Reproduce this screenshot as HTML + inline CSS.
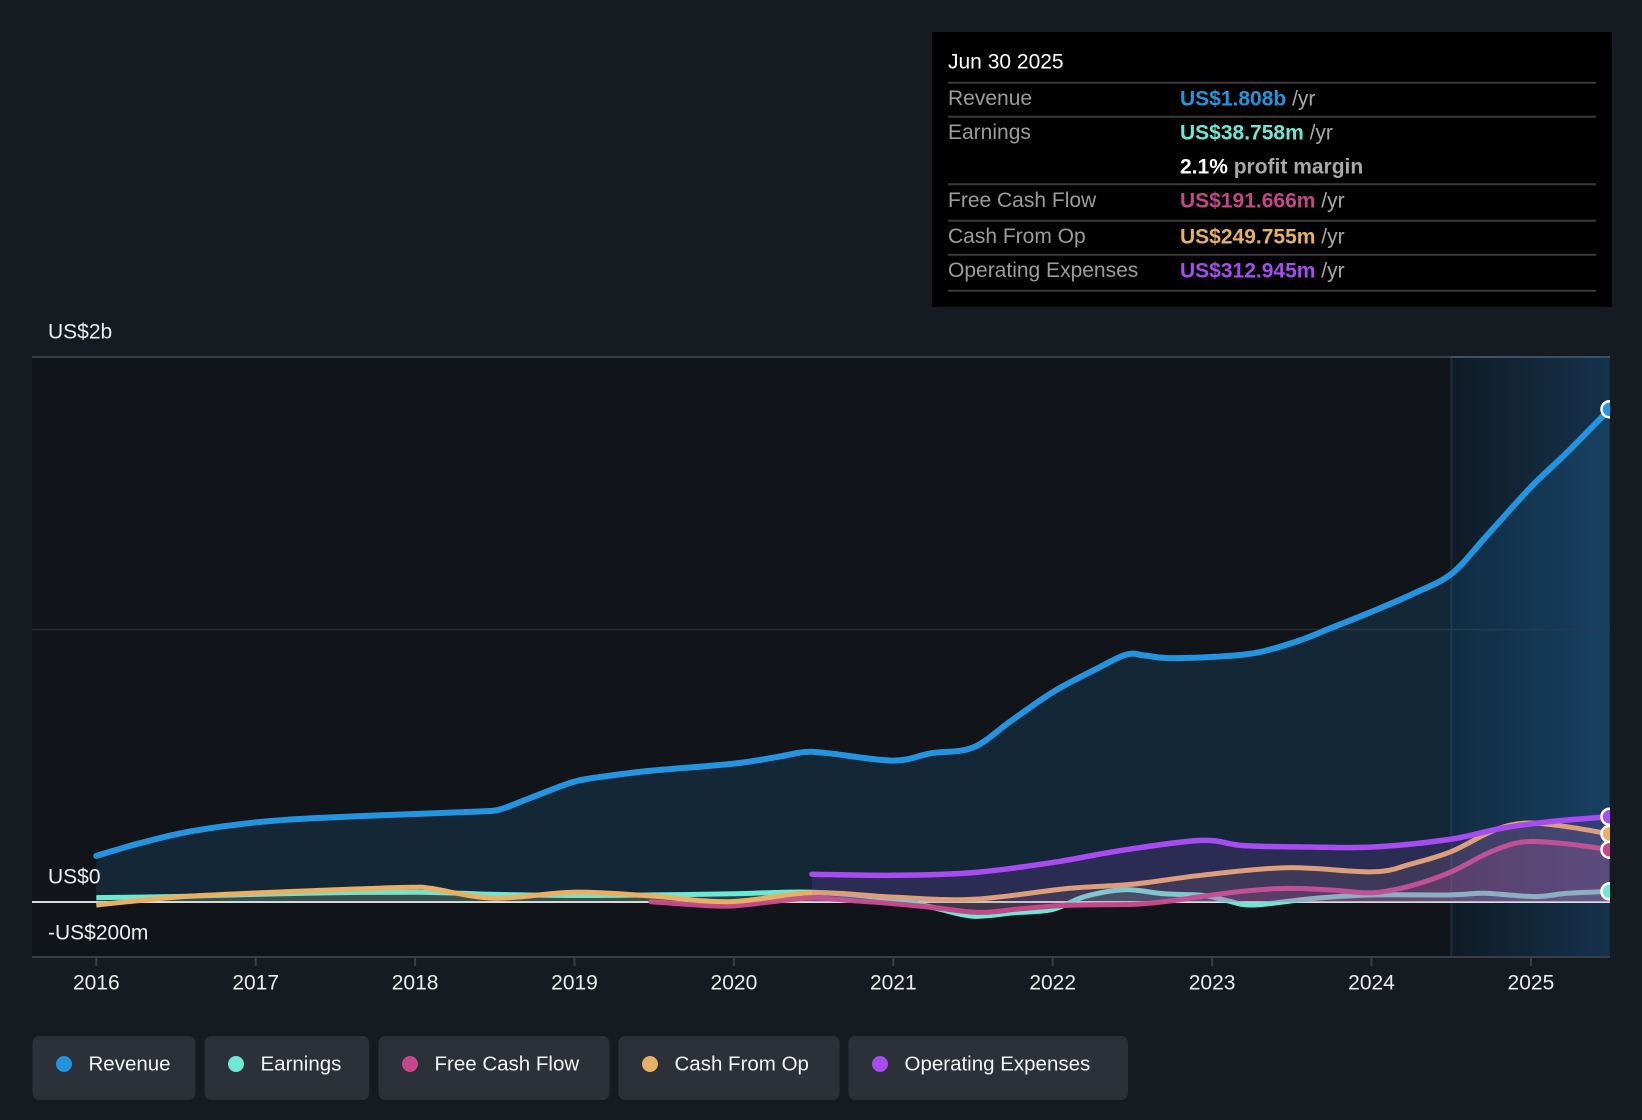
<!DOCTYPE html>
<html>
<head>
<meta charset="utf-8">
<style>
  html,body{margin:0;padding:0;background:#161b22;}
  body{width:1642px;height:1120px;overflow:hidden;}
  svg{display:block;}
  text{font-family:"Liberation Sans",Arial,sans-serif;}
</style>
</head>
<body>
<svg id="chart" width="1642" height="1120" viewBox="0 0 1642 1120" xmlns="http://www.w3.org/2000/svg">
  <defs>
    <linearGradient id="fc" x1="0" y1="0" x2="1" y2="0">
      <stop offset="0" stop-color="#0f1b26"/>
      <stop offset="1" stop-color="#15324c"/>
    </linearGradient>
    <clipPath id="plot">
      <rect x="32" y="340" width="1578" height="620"/>
    </clipPath>
  </defs>

  <rect x="0" y="0" width="1642" height="1120" fill="#161b22"/>

  <rect x="32" y="357" width="1419.3" height="600" fill="#111419"/>
  <rect x="1451.3" y="357" width="158.5" height="600" fill="url(#fc)"/>
  <line x1="1451.3" y1="357" x2="1451.3" y2="957" stroke="#1b2b3b" stroke-width="2"/>

  <line x1="32" y1="629.5" x2="1610" y2="629.5" stroke="#262b33" stroke-width="1.5"/>
  <line x1="32" y1="357" x2="1451" y2="357" stroke="#3b3f46" stroke-width="2"/>
  <line x1="1451" y1="357" x2="1610" y2="357" stroke="#3d5064" stroke-width="2"/>
  <line x1="32" y1="957" x2="1610" y2="957" stroke="#3a3e45" stroke-width="2"/>

  <g stroke="#3a3e45" stroke-width="2">
    <line x1="96.3" y1="957" x2="96.3" y2="966"/>
    <line x1="255.7" y1="957" x2="255.7" y2="966"/>
    <line x1="415.1" y1="957" x2="415.1" y2="966"/>
    <line x1="574.5" y1="957" x2="574.5" y2="966"/>
    <line x1="733.9" y1="957" x2="733.9" y2="966"/>
    <line x1="893.3" y1="957" x2="893.3" y2="966"/>
    <line x1="1052.7" y1="957" x2="1052.7" y2="966"/>
    <line x1="1212.1" y1="957" x2="1212.1" y2="966"/>
    <line x1="1371.5" y1="957" x2="1371.5" y2="966"/>
    <line x1="1530.9" y1="957" x2="1530.9" y2="966"/>
  </g>

  <g clip-path="url(#plot)">
    <!-- Revenue -->
    <path id="revF" fill="#2394df" fill-opacity="0.15" d="M96.3,902 L96.3,855.9 136.2,844.2 188.8,831.7 255.7,822.4 314.7,818.1 415.1,814.0 480,811.5 496.4,810.3 510,806 534.6,796.3 574.5,781.6 606.4,776.1 649.4,770.9 733.9,763.6 775.3,757.3 804.0,752.1 827.9,753.2 893.3,760.6 931.5,753.2 973.0,747.5 1011.2,720.8 1052.7,692.2 1094.1,670.1 1126.0,654.6 1145,655.5 1167.4,658.1 1215.3,656.8 1256.7,652.7 1298.2,641.0 1330.1,628.4 1371.5,611.8 1413.0,593.8 1451.3,573.9 1486.3,536.3 1531.0,487.0 1566.0,453.5 1609.5,409.3 L1609.5,902 Z"/>
    <polyline id="revL" fill="none" stroke="#2394df" stroke-width="6" stroke-linejoin="round" stroke-linecap="round" points="96.3,855.9 136.2,844.2 188.8,831.7 255.7,822.4 314.7,818.1 415.1,814.0 480,811.5 496.4,810.3 510,806 534.6,796.3 574.5,781.6 606.4,776.1 649.4,770.9 733.9,763.6 775.3,757.3 804.0,752.1 827.9,753.2 893.3,760.6 931.5,753.2 973.0,747.5 1011.2,720.8 1052.7,692.2 1094.1,670.1 1126.0,654.6 1145,655.5 1167.4,658.1 1215.3,656.8 1256.7,652.7 1298.2,641.0 1330.1,628.4 1371.5,611.8 1413.0,593.8 1451.3,573.9 1486.3,536.3 1531.0,487.0 1566.0,453.5 1609.5,409.3"/>

    <line x1="32" y1="902" x2="1610" y2="902" stroke="#dcdcdc" stroke-width="2"/>

    <!-- Earnings -->
    <path id="earF" fill="#6ee8d5" fill-opacity="0.15" d="M96.3,902 L96.3,897.6 176,896.5 255.7,894.4 335.4,892.7 415.1,892.2 463,893.3 494.8,894.4 574.5,895.5 654.2,894.9 733.9,893.8 813.6,892.2 893.3,899.3 933.1,907.5 973.0,916.2 1012.8,912.9 1052.7,909.4 1084.5,896.6 1124.4,889.7 1164.2,893.8 1204.1,895.5 1228.0,900.9 1253.5,905.0 1310.9,898.7 1371.5,894.9 1451.3,894.9 1484.7,893.3 1534.2,896.6 1567.6,893.3 1609.5,891.4 L1609.5,902 Z"/>
    <polyline id="earL" fill="none" stroke="#6ee8d5" stroke-width="5" stroke-linejoin="round" points="96.3,897.6 176,896.5 255.7,894.4 335.4,892.7 415.1,892.2 463,893.3 494.8,894.4 574.5,895.5 654.2,894.9 733.9,893.8 813.6,892.2 893.3,899.3 933.1,907.5 973.0,916.2 1012.8,912.9 1052.7,909.4 1084.5,896.6 1124.4,889.7 1164.2,893.8 1204.1,895.5 1228.0,900.9 1253.5,905.0 1310.9,898.7 1371.5,894.9 1451.3,894.9 1484.7,893.3 1534.2,896.6 1567.6,893.3 1609.5,891.4"/>

    <!-- Free Cash Flow -->
    <path id="fcfF" fill="#c4478a" fill-opacity="0.2" d="M651,902 L651.0,901.7 690,904.5 729.1,906.1 770,902 812.0,897.9 850,900.5 890.1,903.4 933.1,907.5 979.3,912.4 1020.8,908.8 1068.6,905.3 1135.5,904.2 1170,901 1200.9,896.6 1243.9,891.1 1287.0,888.4 1331.6,890.0 1373.0,892.7 1411.3,885.7 1451.3,871.8 1491.2,851.6 1524.6,841.8 1567.6,844.0 1609.5,849.7 L1609.5,902 Z"/>
    <polyline id="fcfL" fill="none" stroke="#c4478a" stroke-width="5" stroke-linejoin="round" stroke-linecap="round" points="651.0,901.7 690,904.5 729.1,906.1 770,902 812.0,897.9 850,900.5 890.1,903.4 933.1,907.5 979.3,912.4 1020.8,908.8 1068.6,905.3 1135.5,904.2 1170,901 1200.9,896.6 1243.9,891.1 1287.0,888.4 1331.6,890.0 1373.0,892.7 1411.3,885.7 1451.3,871.8 1491.2,851.6 1524.6,841.8 1567.6,844.0 1609.5,849.7"/>

    <!-- Cash From Op -->
    <path id="cfoF" fill="#e8b064" fill-opacity="0.12" d="M96.3,902 L96.3,905.0 176,897.1 255.7,893.0 335.4,889.7 411.9,887.3 431,888.4 494.8,898.2 573.7,892.2 651.0,896.0 729.1,901.7 812.0,892.7 893.3,897.1 973.0,899.3 1068.6,888.4 1132.3,884.3 1200.9,875.3 1287.0,867.7 1373.0,871.8 1411.3,863.9 1451.3,851.6 1494.4,830.1 1527.9,823.0 1567.6,826.8 1609.5,833.9 L1609.5,902 Z"/>
    <polyline id="cfoL" fill="none" stroke="#e8b064" stroke-width="5" stroke-linejoin="round" points="96.3,905.0 176,897.1 255.7,893.0 335.4,889.7 411.9,887.3 431,888.4 494.8,898.2 573.7,892.2 651.0,896.0 729.1,901.7 812.0,892.7 893.3,897.1 973.0,899.3 1068.6,888.4 1132.3,884.3 1200.9,875.3 1287.0,867.7 1373.0,871.8 1411.3,863.9 1451.3,851.6 1494.4,830.1 1527.9,823.0 1567.6,826.8 1609.5,833.9"/>

    <!-- Operating Expenses -->
    <path id="opxF" fill="#a24af0" fill-opacity="0.17" d="M812,902 L812.0,874.2 893.3,875.3 973.0,872.6 1052.7,862.5 1122.8,850.2 1200.9,840.4 1243.9,845.6 1307.7,847.0 1373.0,847.0 1451.3,839.1 1500.7,828.4 1550.1,821.6 1609.5,816.7 L1609.5,902 Z"/>
    <polyline id="opxL" fill="none" stroke="#a64cf0" stroke-width="5.5" stroke-linejoin="round" stroke-linecap="round" points="812.0,874.2 893.3,875.3 973.0,872.6 1052.7,862.5 1122.8,850.2 1200.9,840.4 1243.9,845.6 1307.7,847.0 1373.0,847.0 1451.3,839.1 1500.7,828.4 1550.1,821.6 1609.5,816.7"/>

    <g stroke="#ffffff" stroke-width="2.5">
      <circle cx="1609.5" cy="409.3" r="8" fill="#2394df"/>
      <circle cx="1609.5" cy="891.4" r="8" fill="#6ee8d5"/>
      <circle cx="1609.5" cy="849.7" r="8" fill="#c4478a"/>
      <circle cx="1609.5" cy="833.9" r="8" fill="#e8b064"/>
      <circle cx="1609.5" cy="816.7" r="8" fill="#a64cf0"/>
    </g>
  </g>

  <g fill="#ececec" font-size="21" dominant-baseline="central">
    <text x="48" y="332">US$2b</text>
    <text x="48" y="877">US$0</text>
    <text x="48" y="933">-US$200m</text>
  </g>

  <g fill="#ececec" font-size="21" text-anchor="middle" dominant-baseline="central">
    <text x="96.3" y="983">2016</text>
    <text x="255.7" y="983">2017</text>
    <text x="415.1" y="983">2018</text>
    <text x="574.5" y="983">2019</text>
    <text x="733.9" y="983">2020</text>
    <text x="893.3" y="983">2021</text>
    <text x="1052.7" y="983">2022</text>
    <text x="1212.1" y="983">2023</text>
    <text x="1371.5" y="983">2024</text>
    <text x="1530.9" y="983">2025</text>
  </g>

  <rect x="932" y="32" width="680" height="275" fill="#000000"/>
  <g stroke="#3a3a3a" stroke-width="2">
    <line x1="948" y1="82.7" x2="1596" y2="82.7"/>
    <line x1="948" y1="116.7" x2="1596" y2="116.7"/>
    <line x1="948" y1="184.3" x2="1596" y2="184.3"/>
    <line x1="948" y1="220.7" x2="1596" y2="220.7"/>
    <line x1="948" y1="254.7" x2="1596" y2="254.7"/>
    <line x1="948" y1="290.7" x2="1596" y2="290.7"/>
  </g>
  <g font-size="21" dominant-baseline="central">
    <text x="948" y="62" fill="#ffffff">Jun 30 2025</text>
    <text x="948" y="98.7" fill="#9c9c9c">Revenue</text>
    <text x="948" y="132.7" fill="#9c9c9c">Earnings</text>
    <text x="948" y="200.7" fill="#9c9c9c">Free Cash Flow</text>
    <text x="948" y="236.7" fill="#9c9c9c">Cash From Op</text>
    <text x="948" y="270.7" fill="#9c9c9c">Operating Expenses</text>

    <text x="1180" y="98.7"><tspan fill="#2394df" font-weight="bold">US$1.808b</tspan><tspan fill="#a8a8a8"> /yr</tspan></text>
    <text x="1180" y="132.7"><tspan fill="#6ee8d5" font-weight="bold">US$38.758m</tspan><tspan fill="#a8a8a8"> /yr</tspan></text>
    <text x="1180" y="166.7"><tspan fill="#ffffff" font-weight="bold">2.1%</tspan><tspan fill="#a8a8a8" font-weight="bold"> profit margin</tspan></text>
    <text x="1180" y="200.7"><tspan fill="#c4478a" font-weight="bold">US$191.666m</tspan><tspan fill="#a8a8a8"> /yr</tspan></text>
    <text x="1180" y="236.7"><tspan fill="#e8b064" font-weight="bold">US$249.755m</tspan><tspan fill="#a8a8a8"> /yr</tspan></text>
    <text x="1180" y="270.7"><tspan fill="#a64cf0" font-weight="bold">US$312.945m</tspan><tspan fill="#a8a8a8"> /yr</tspan></text>
  </g>

  <g fill="#2c3039">
    <rect x="32.5" y="1036" width="163.1" height="64" rx="7"/>
    <rect x="204.4" y="1036" width="164.9" height="64" rx="7"/>
    <rect x="378.5" y="1036" width="231" height="64" rx="7"/>
    <rect x="618.4" y="1036" width="221.2" height="64" rx="7"/>
    <rect x="848.4" y="1036" width="279.6" height="64" rx="7"/>
  </g>
  <circle cx="64" cy="1064" r="8" fill="#2394df"/>
  <circle cx="236" cy="1064" r="8" fill="#6ee8d5"/>
  <circle cx="410" cy="1064" r="8" fill="#c4478a"/>
  <circle cx="650" cy="1064" r="8" fill="#e8b064"/>
  <circle cx="880" cy="1064" r="8" fill="#a64cf0"/>
  <g fill="#f2f2f2" font-size="20.5" dominant-baseline="central">
    <text x="88.5" y="1064">Revenue</text>
    <text x="260.5" y="1064">Earnings</text>
    <text x="434.5" y="1064">Free Cash Flow</text>
    <text x="674.5" y="1064">Cash From Op</text>
    <text x="904.5" y="1064">Operating Expenses</text>
  </g>
</svg>
<script>
(function(){
  var NS="http://www.w3.org/2000/svg";
  function smooth(pts){
    var d="M"+pts[0][0]+","+pts[0][1];
    for(var i=0;i<pts.length-1;i++){
      var p0=pts[i>0?i-1:i],p1=pts[i],p2=pts[i+1],p3=pts[i+2<pts.length?i+2:i+1];
      var c1x=p1[0]+(p2[0]-p0[0])/6,c1y=p1[1]+(p2[1]-p0[1])/6;
      var c2x=p2[0]-(p3[0]-p1[0])/6,c2y=p2[1]-(p3[1]-p1[1])/6;
      d+=" C"+c1x.toFixed(2)+","+c1y.toFixed(2)+" "+c2x.toFixed(2)+","+c2y.toFixed(2)+" "+p2[0]+","+p2[1];
    }
    return d;
  }
  var ids=["rev","ear","fcf","cfo","opx"];
  ids.forEach(function(k){
    var pl=document.getElementById(k+"L"),fl=document.getElementById(k+"F");
    if(!pl)return;
    var raw=pl.getAttribute("points").trim().split(/\s+/);
    var pts=raw.map(function(s){var a=s.split(",");return [parseFloat(a[0]),parseFloat(a[1])];});
    var d=smooth(pts);
    var p=document.createElementNS(NS,"path");
    ["fill","stroke","stroke-width","stroke-linejoin","stroke-linecap"].forEach(function(a){
      if(pl.getAttribute(a)!==null)p.setAttribute(a,pl.getAttribute(a));
    });
    p.setAttribute("d",d);
    pl.parentNode.replaceChild(p,pl);
    if(fl){
      var first=pts[0],last=pts[pts.length-1];
      fl.setAttribute("d","M"+first[0]+",902 L"+first[0]+","+first[1]+" "+d.substring(d.indexOf("C"))+" L"+last[0]+",902 Z");
    }
  });
})();
</script>
</body>
</html>
